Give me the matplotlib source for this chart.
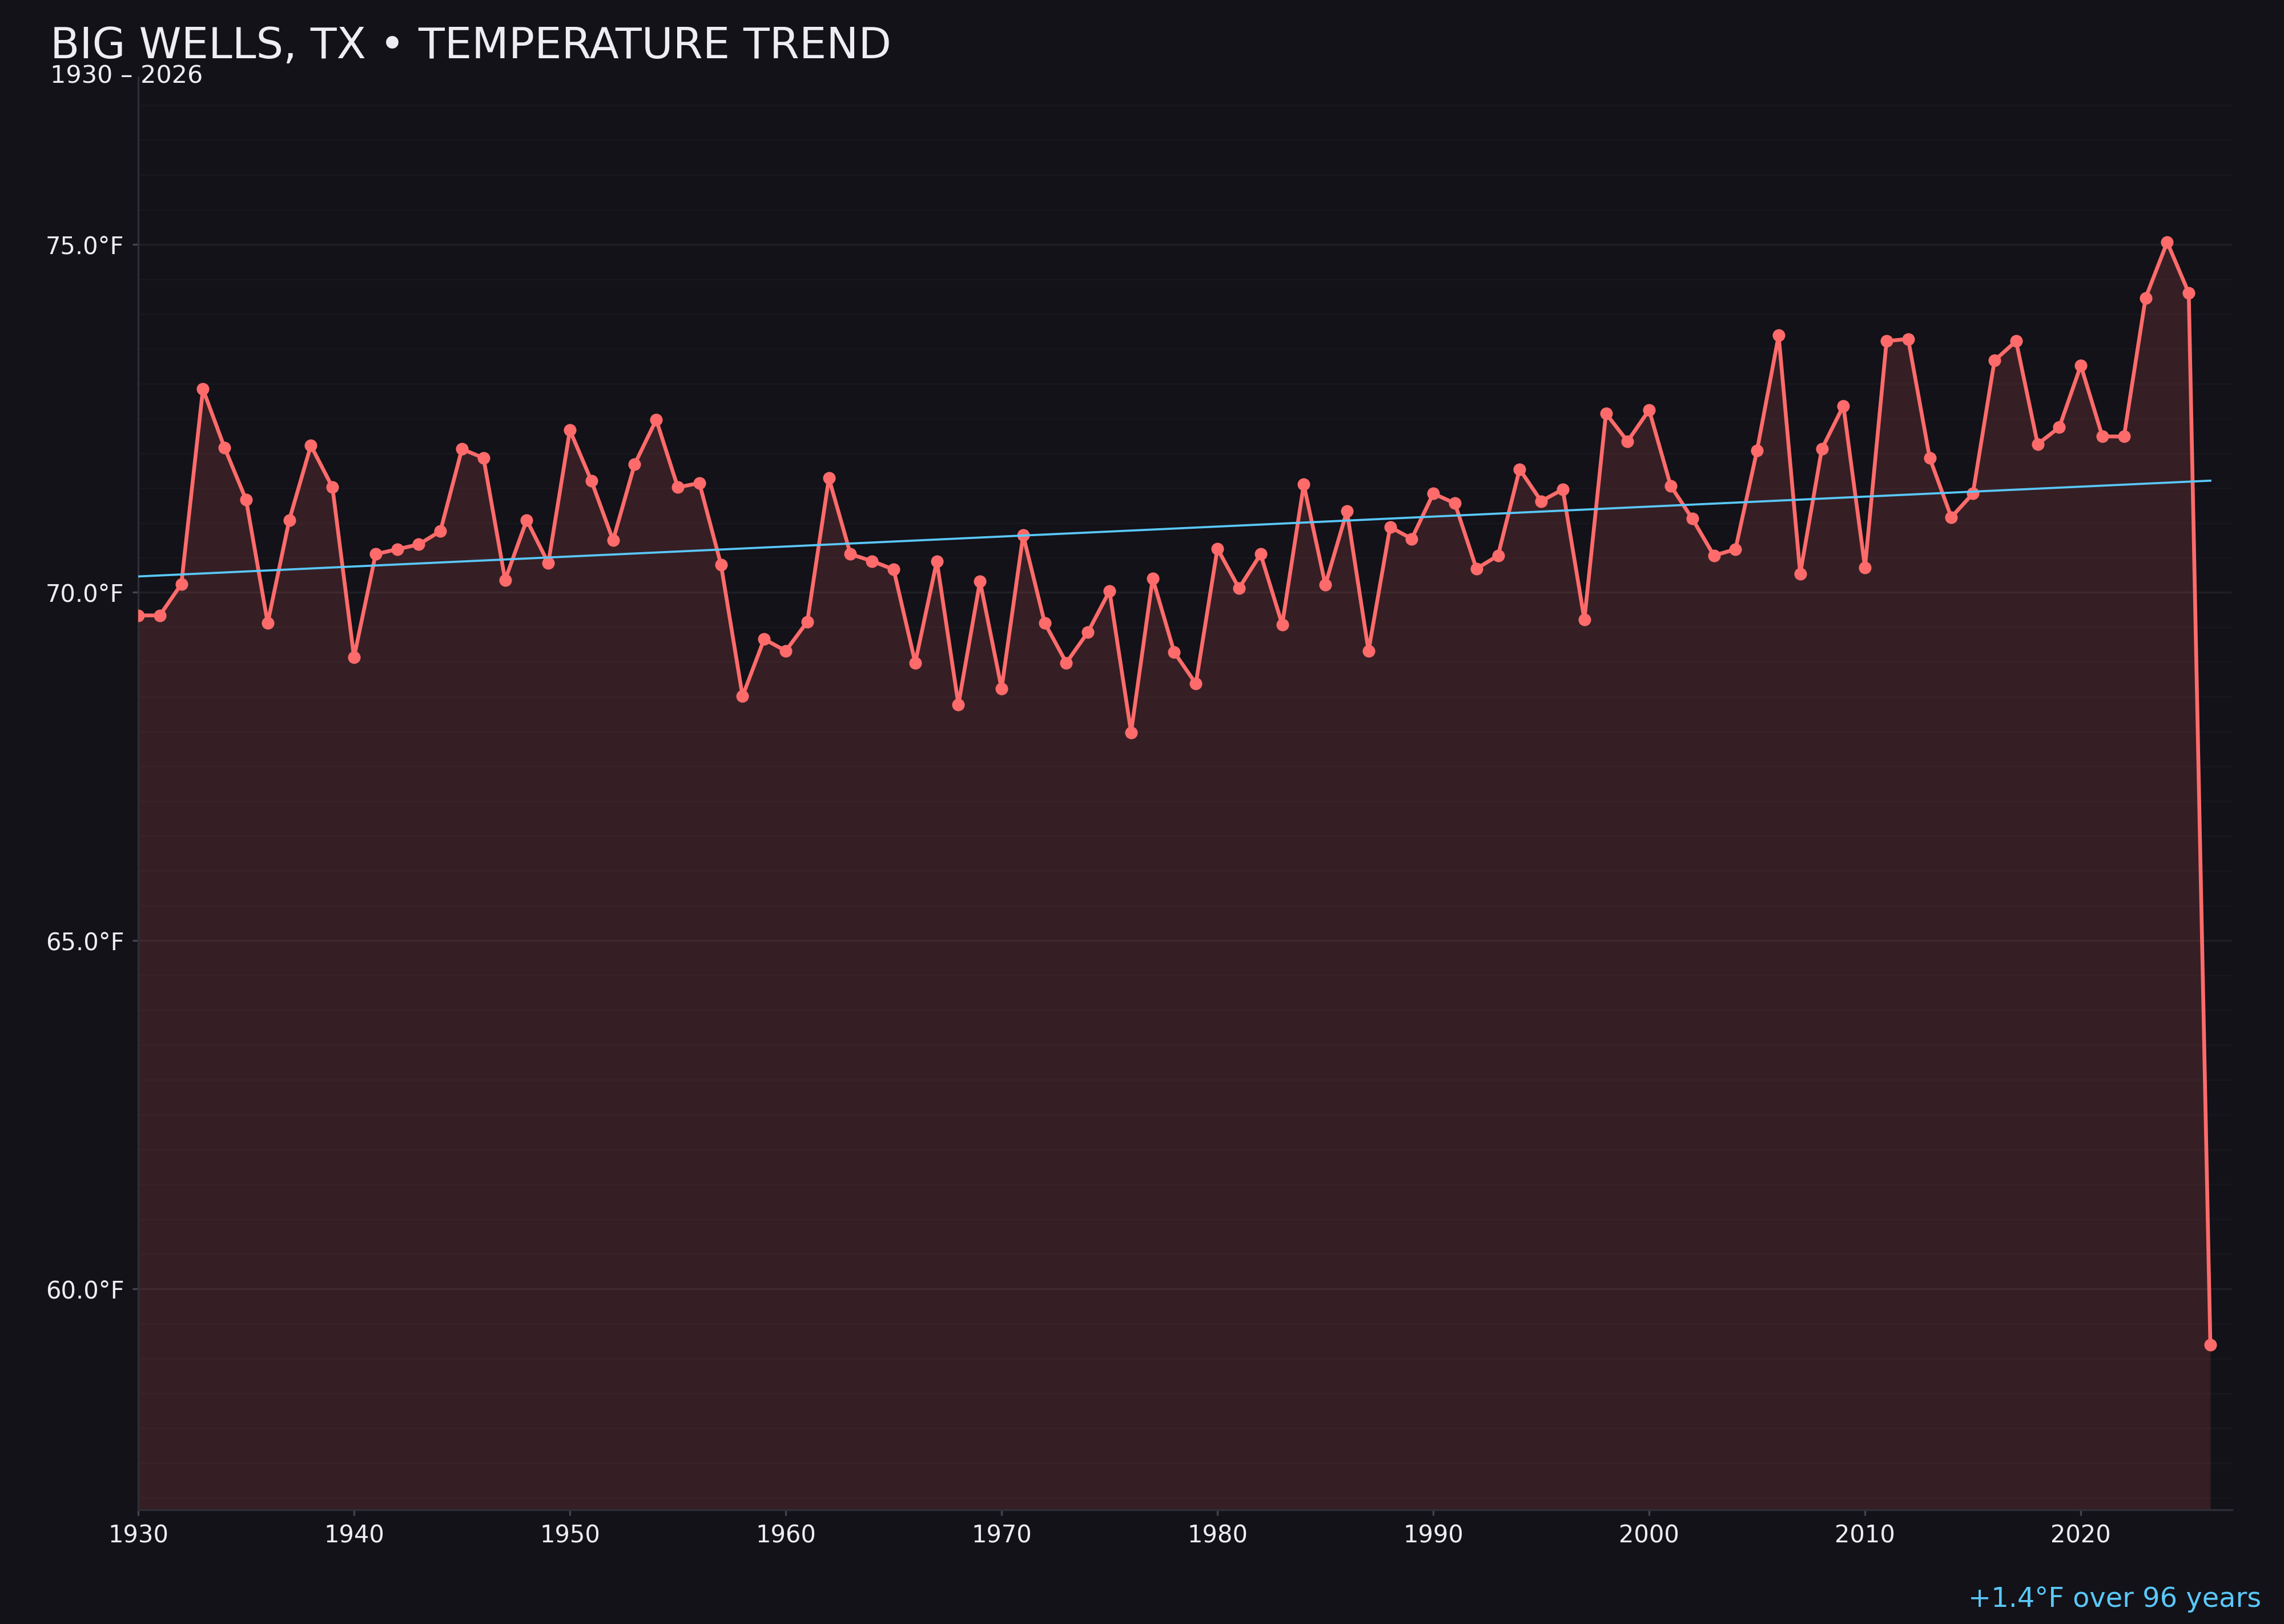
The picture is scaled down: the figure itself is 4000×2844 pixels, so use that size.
import numpy as np
import matplotlib
matplotlib.use("Agg")
import matplotlib.pyplot as plt
from matplotlib.ticker import MultipleLocator, FuncFormatter

# annual mean temperature, Big Wells TX
years = list(range(1930, 2027))
temps = [
    69.67, 69.67, 70.12, 72.92, 72.08, 71.33, 69.56, 71.04, 72.11, 71.51,
    69.07, 70.55, 70.62, 70.69, 70.88, 72.06, 71.93, 70.18, 71.04, 70.42,
    72.33, 71.60, 70.75, 71.84, 72.48, 71.51, 71.57, 70.40, 68.51, 69.33,
    69.16, 69.58, 71.64, 70.55, 70.45, 70.33, 68.99, 70.45, 68.39, 70.16,
    68.62, 70.82, 69.56, 68.99, 69.43, 70.02, 67.99, 70.20, 69.14, 68.69,
    70.63, 70.06, 70.55, 69.54, 71.55, 70.11, 71.17, 69.16, 70.94, 70.77,
    71.42, 71.28, 70.34, 70.53, 71.77, 71.31, 71.48, 69.61, 72.57, 72.17,
    72.62, 71.53, 71.06, 70.53, 70.62, 72.04, 73.69, 70.27, 72.06, 72.68,
    70.36, 73.61, 73.64, 71.93, 71.08, 71.42, 73.33, 73.61, 72.13, 72.37,
    73.26, 72.24, 72.24, 74.23, 75.03, 74.30, 59.20,
]
x_ticks = [1930, 1940, 1950, 1960, 1970, 1980, 1990, 2000, 2010, 2020]
y_ticks = [60, 65, 70, 75]

title = "BIG WELLS, TX \u2022 TEMPERATURE TREND"
subtitle = "1930 \u2013 2026"
trend_label = "+1.4\u00b0F over 96 years"

bg = "#121218"
line_c = "#ff6b6b"
trend_c = "#5ac8fa"
text_c = "#ededf2"

x = np.array(years)
y = np.array(temps)

fig = plt.figure(figsize=(4000 / 300, 2844 / 300), dpi=300, facecolor=bg)
ax = fig.add_axes([0.0605, 0.0703, 0.9167, 0.8824], facecolor=bg)

pad = (y.max() - y.min()) * 0.15
lo, hi = y.min() - pad, y.max() + pad
ax.set_ylim(lo, hi)
ax.set_xlim(1930, 2027)

ax.fill_between(x, y, lo, color=line_c, alpha=0.15, linewidth=0, zorder=1)
ax.plot(x, y, color=line_c, lw=1.6, marker="o", ms=4.3, zorder=3)

# linear trend
k, b = np.polyfit(x, y, 1)
ax.plot(x, k * x + b, color=trend_c, lw=0.9, zorder=4)

ax.set_xticks(x_ticks)
ax.set_yticks(y_ticks)
ax.yaxis.set_major_formatter(FuncFormatter(lambda v, p: f"{v:.1f}\u00b0F"))
ax.yaxis.set_minor_locator(MultipleLocator(0.5))
ax.tick_params(axis="both", which="major", colors="#44444e", labelcolor=text_c,
               labelsize=10, length=2.4, width=0.8)
ax.tick_params(axis="y", which="minor", length=0)

ax.grid(axis="y", which="major", color="#ffffff", alpha=0.06, lw=0.8, zorder=0)
ax.grid(axis="y", which="minor", color="#ffffff", alpha=0.025, lw=0.6, zorder=0)
ax.set_axisbelow(True)

for s in ["top", "right"]:
    ax.spines[s].set_visible(False)
for s in ["left", "bottom"]:
    ax.spines[s].set_color("#2e2e37")
    ax.spines[s].set_linewidth(0.8)

fig.text(0.022, 0.964, title, color=text_c, fontsize=18, va="baseline", ha="left")
fig.text(0.022, 0.949, subtitle, color=text_c, fontsize=10.3, va="baseline", ha="left")
fig.text(0.99, 0.0105, trend_label, color=trend_c, fontsize=11.5, va="baseline", ha="right")

fig.savefig("out.png", dpi=300, facecolor=bg)
